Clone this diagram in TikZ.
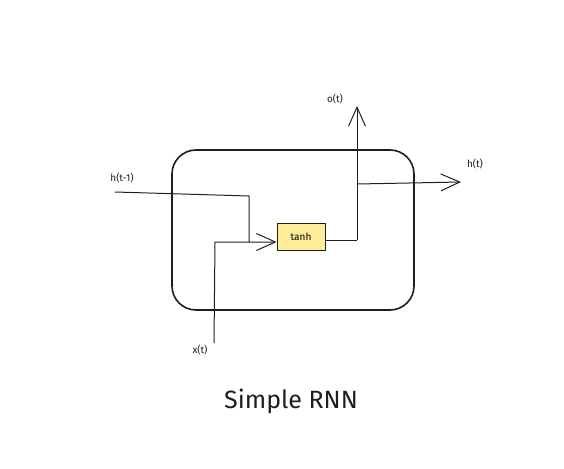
\documentclass[tikz,border=0pt]{standalone}
\usepackage{fontspec}
\setmainfont{Fira Sans}
\usetikzlibrary{arrows.meta}
\definecolor{ink}{HTML}{1E1E1E}
\definecolor{tanhfill}{HTML}{FFEC99}
\tikzset{
  wire/.style={draw=ink, line width=1pt, -{Straight Barb[length=19pt,width=17pt,line width=1pt]}},
  plain/.style={draw=ink, line width=1pt},
  lbl/.style={font=\fontsize{10}{11}\selectfont, text=ink, inner sep=0pt},
  cell/.style={draw=ink, line width=1.6pt, rounded corners=24pt},
  gate/.style={draw=ink, fill=tanhfill, line width=0.8pt, minimum width=48pt, minimum height=27pt, font=\fontsize{10}{11}\selectfont, inner sep=0pt}
}
\begin{document}
\begin{tikzpicture}[x=1pt,y=-1pt]
\useasboundingbox (0,0) rectangle (564,468);
\draw[cell] (172,150) rectangle (414,310);
\node[gate] (tanh) at (301,236.5) {tanh};
% h(t-1)
\coordinate (hin) at (115,192);
\coordinate (hbend) at (249,196);
\coordinate (join) at (249,242);
\draw[plain] (hin) -- (hbend) -- (join);
% x(t)
\coordinate (xin) at (214,343);
\coordinate (xbend) at (215,242);
\draw[wire] (xin) -- (xbend) -- (tanh.west |- xbend);
% output
\coordinate (obend) at (357,240);
\coordinate (otop) at (357,106);
\coordinate (hsplit) at (357,184);
\coordinate (hout) at (461,182);
\draw[plain] (tanh.east |- obend) -- (obend);
\draw[wire] (obend) -- (otop);
\draw[wire] (hsplit) -- (hout);
% labels
\node[lbl] (lhin) at (122,178) {h(t-1)};
\node[lbl] (lo) at (335,99) {o(t)};
\node[lbl] (lhout) at (475,164) {h(t)};
\node[lbl] (lx) at (200,350) {x(t)};
\node[font=\fontsize{25}{28}\selectfont, text=ink] (title) at (291,401) {Simple RNN};
\end{tikzpicture}
\end{document}
